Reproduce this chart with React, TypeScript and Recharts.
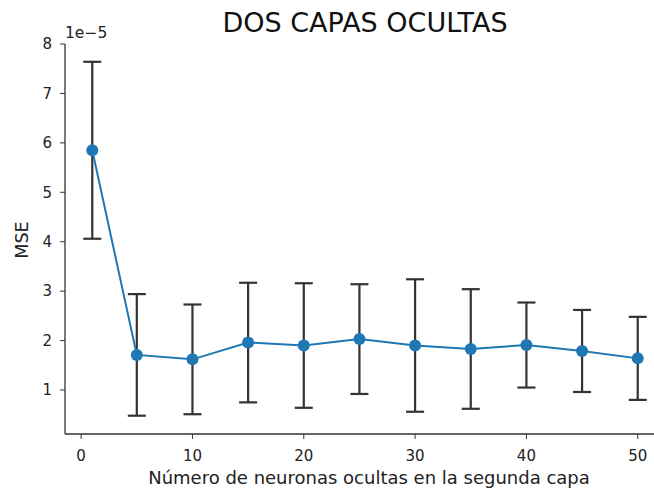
import React from 'react';
import {
  LineChart,
  Line,
  XAxis,
  YAxis,
  ErrorBar,
  Customized,
} from 'recharts';

// Number of neurons in the second hidden layer
const neurons = [1, 5, 10, 15, 20, 25, 30, 35, 40, 45, 50];
// Mean MSE over runs
const mseMean = [5.85e-5, 1.71e-5, 1.62e-5, 1.96e-5, 1.9e-5, 2.03e-5, 1.9e-5, 1.83e-5, 1.91e-5, 1.79e-5, 1.64e-5];
// Standard deviation of the MSE
const mseStd = [1.79e-5, 1.23e-5, 1.11e-5, 1.21e-5, 1.26e-5, 1.11e-5, 1.34e-5, 1.21e-5, 0.86e-5, 0.83e-5, 0.84e-5];

const xTicks = [0, 10, 20, 30, 40, 50];
const yTicks = [1e-5, 2e-5, 3e-5, 4e-5, 5e-5, 6e-5, 7e-5, 8e-5];

const data = neurons.map((n, i) => ({ n, mse: mseMean[i], err: mseStd[i] }));

const FONT = '"DejaVu Sans", sans-serif';
const BLUE = '#1f77b4';
const SPINE = '#333333';

const Texts = () => (
  <g fontFamily={FONT}>
    <text x={365} y={32} textAnchor="middle" fontSize={27} fill="#111">
      DOS CAPAS OCULTAS
    </text>
    <text x={65} y={38} textAnchor="start" fontSize={15.5} fill="#222">
      1e−5
    </text>
    <text x={369} y={484} textAnchor="middle" fontSize={18} fill="#222">
      Número de neuronas ocultas en la segunda capa
    </text>
    <text
      x={28}
      y={240}
      textAnchor="middle"
      fontSize={17.5}
      fill="#222"
      transform="rotate(-90 28 240)"
    >
      MSE
    </text>
  </g>
);

export default function App() {
  return (
    <div style={{ position: 'absolute', left: 0, top: 0, width: 654, height: 495, overflow: 'hidden', background: '#fff' }}>
      <LineChart
        width={680}
        height={495}
        data={data}
        margin={{ top: 44, right: 15, bottom: 0, left: 0 }}
      >
        <XAxis
          dataKey="n"
          type="number"
          domain={[-1.45, 52.45]}
          allowDataOverflow
          ticks={xTicks}
          height={61}
          tickSize={5}
          tickMargin={11}
          stroke={SPINE}
          tick={{ fill: '#222', fontSize: 15, fontFamily: FONT }}
          tickLine={{ stroke: SPINE }}
          axisLine={{ stroke: SPINE, strokeWidth: 1.3 }}
        />
        <XAxis
          xAxisId="top"
          dataKey="n"
          type="number"
          domain={[-1.45, 52.45]}
          allowDataOverflow
          orientation="top"
          height={0}
          tick={false}
          tickLine={false}
          axisLine={{ stroke: SPINE, strokeWidth: 1.3 }}
        />
        <YAxis
          type="number"
          domain={[0.11e-5, 8e-5]}
          allowDataOverflow
          ticks={yTicks}
          width={65}
          tickSize={5}
          tickMargin={8}
          tickFormatter={(v: number) => String(Math.round(v * 1e5))}
          tick={{ fill: '#222', fontSize: 15, fontFamily: FONT }}
          tickLine={{ stroke: SPINE }}
          axisLine={{ stroke: SPINE, strokeWidth: 1.3 }}
        />
        <Line
          dataKey="mse"
          stroke={BLUE}
          strokeWidth={2}
          dot={false}
          activeDot={false}
          isAnimationActive={false}
        >
          <ErrorBar dataKey="err" width={9} stroke="#333" strokeWidth={2.2} direction="y" />
        </Line>
        <Line
          dataKey="mse"
          stroke="none"
          dot={{ r: 6, fill: BLUE, stroke: BLUE, strokeWidth: 0 }}
          activeDot={false}
          isAnimationActive={false}
        />
        <Customized component={Texts} />
      </LineChart>
    </div>
  );
}
